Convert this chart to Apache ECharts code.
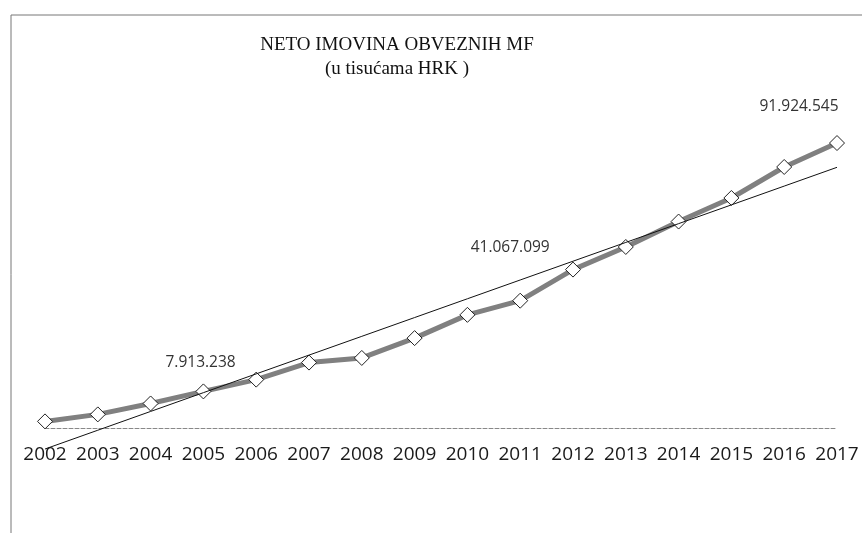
<!DOCTYPE html>
<html>
<head>
<meta charset="utf-8">
<script src="https://cdn.jsdelivr.net/npm/echarts@6/dist/echarts.min.js"></script>
<style>
  html, body { margin: 0; padding: 0; background: #fff; }
  #chart { width: 862px; height: 533px; }
</style>
</head>
<body>
<div id="chart"></div>
<script>
// godine
const years = ['2002', '2003', '2004', '2005', '2006', '2007', '2008', '2009',
  '2010', '2011', '2012', '2013', '2014', '2015', '2016', '2017'];
// neto imovina, u tisucama HRK (ocitano sa slike, tri vrijednosti su oznacene)
const netAssets = [2130000, 4390000, 7913238, 11800000, 15600000, 21100000, 22600000, 29000000,
  36500000, 41067099, 51100000, 58400000, 66600000, 74200000, 84200000, 91924545];
// koje tocke imaju oznaku
const labeledYears = ['2004', '2011', '2017'];

function fmt(v) {
  return String(Math.round(v)).replace(/\B(?=(\d{3})+(?!\d))/g, '.');
}

// linearni trend (najmanji kvadrati), kao u Excelu
const n = netAssets.length;
let sx = 0, sy = 0, sxy = 0, sxx = 0;
netAssets.forEach(function (v, i) { sx += i; sy += v; sxy += i * v; sxx += i * i; });
const slope = (n * sxy - sx * sy) / (n * sxx - sx * sx);
const icpt = (sy - slope * sx) / n;
const trend = netAssets.map(function (v, i) { return icpt + slope * i; });

const labelOffsets = { '2004': [50, -41], '2011': [-10, -53], '2017': [-38, -36] };

const seriesData = netAssets.map(function (v, i) {
  const y = years[i];
  if (labeledYears.indexOf(y) < 0) return v;
  return {
    value: v,
    label: {
      show: true,
      position: 'inside',
      offset: labelOffsets[y],
      formatter: function (p) { return fmt(p.value); },
      fontFamily: 'Open Sans',
      fontSize: 15.5,
      color: '#333'
    }
  };
});

const chart = echarts.init(document.getElementById('chart'), null, { renderer: 'canvas' });
chart.setOption({
  backgroundColor: '#fff',
  animation: false,
  title: {
    text: 'NETO IMOVINA OBVEZNIH MF',
    subtext: '(u tisućama HRK )',
    left: 392,
    top: 31,
    textAlign: 'center',
    itemGap: 5,
    textStyle: { fontFamily: 'Liberation Serif', fontSize: 19, fontWeight: 'normal', color: '#111' },
    subtextStyle: { fontFamily: 'Liberation Serif', fontSize: 19, color: '#111' }
  },
  graphic: [{
    type: 'rect',
    shape: { x: 11, y: 15, width: 900, height: 600 },
    style: { fill: null, stroke: '#777', lineWidth: 1 },
    silent: true
  }],
  grid: { left: 45, right: 25, top: 118, bottom: 105 },
  xAxis: {
    type: 'category',
    data: years,
    boundaryGap: false,
    axisLine: { lineStyle: { color: '#888', type: 'dashed', width: 1 } },
    axisTick: { show: false },
    axisLabel: { interval: 0, hideOverlap: false, fontFamily: 'Open Sans', fontSize: 19, color: '#1a1a1a', margin: 17 },
    splitLine: { show: false }
  },
  yAxis: {
    type: 'value',
    min: 0,
    max: 100000000,
    show: false,
    splitLine: { show: false }
  },
  series: [
    {
      name: 'trend',
      type: 'line',
      data: trend,
      symbol: 'none',
      clip: false,
      z: 3,
      lineStyle: { color: '#111', width: 1 }
    },
    {
      name: 'Neto imovina',
      type: 'line',
      data: seriesData,
      symbol: 'diamond',
      symbolSize: 15,
      z: 2,
      lineStyle: { color: '#808080', width: 5 },
      itemStyle: { color: '#fff', borderColor: '#222', borderWidth: 1 }
    }
  ]
});
</script>
</body>
</html>
